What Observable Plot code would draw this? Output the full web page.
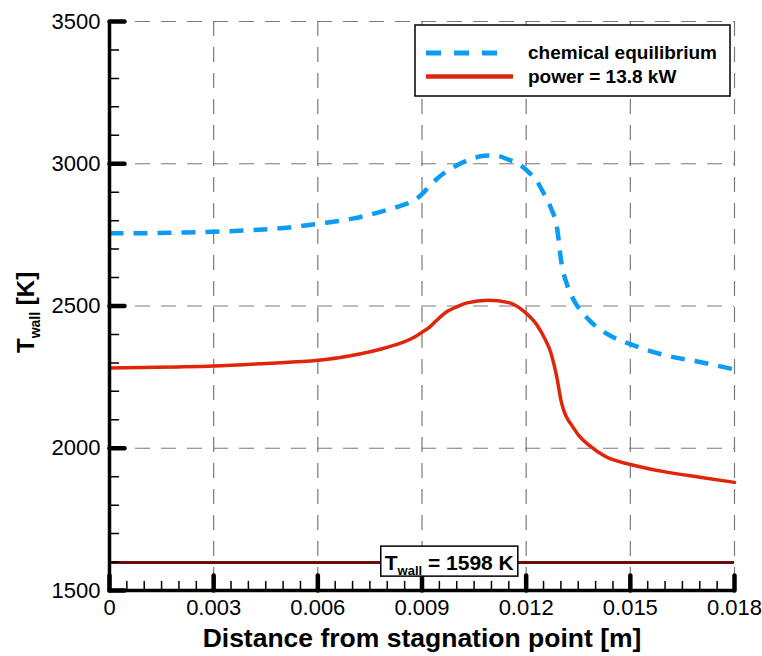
<!DOCTYPE html>
<html><head><meta charset="utf-8">
<script src="https://cdn.jsdelivr.net/npm/d3@7"></script>
<script src="https://cdn.jsdelivr.net/npm/@observablehq/plot@0.6"></script>
<style>
html,body{margin:0;padding:0;background:#fff;}
#chart{width:762px;height:656px;}
</style></head><body><div id="chart"></div>
<script>
// ---- data ----
const chemX = [0, 0.001, 0.002, 0.003, 0.004, 0.005, 0.006, 0.007, 0.008, 0.0084, 0.0088, 0.0090, 0.0092, 0.0096, 0.0100, 0.0104, 0.0108, 0.0111, 0.0115, 0.0118, 0.0121, 0.0123, 0.0125, 0.0127, 0.0129, 0.0130, 0.0132, 0.0134, 0.0138, 0.0144, 0.0150, 0.0160, 0.0170, 0.0180];
const chemT = [2756, 2756, 2758, 2761, 2766, 2774, 2789, 2807, 2838, 2853, 2873, 2893, 2920, 2964, 2994, 3016, 3028, 3029, 3014, 2998, 2967, 2941, 2897, 2848, 2766, 2665, 2567, 2515, 2452, 2397, 2366, 2327, 2303, 2277];
const powerX = [0, 0.001, 0.002, 0.003, 0.0045, 0.006, 0.0066, 0.0072, 0.0078, 0.0084, 0.0088, 0.0090, 0.0092, 0.0094, 0.0097, 0.0100, 0.0103, 0.0109, 0.0115, 0.0119, 0.0123, 0.01255, 0.0127, 0.0128, 0.0129, 0.01295, 0.0130, 0.01305, 0.0131, 0.0132, 0.0133, 0.0135, 0.0138, 0.0143, 0.0150, 0.0160, 0.0170, 0.0180];
const powerT = [2282, 2284, 2286, 2289, 2298, 2309, 2318, 2331, 2348, 2370, 2392, 2408, 2424, 2447, 2479, 2497, 2511, 2520, 2512, 2485, 2435, 2382, 2340, 2295, 2239, 2203, 2170, 2146, 2127, 2101, 2083, 2047, 2012, 1970, 1943, 1917, 1898, 1880];
const wallT = 1598;
const seriesNames = ["chemical equilibrium", "power = 13.8 kW"];
const seriesColors = ["#0d9cf5", "#e0250a"];
const wallColor = "#6e0c0c";
const xTicks = [0, 0.003, 0.006, 0.009, 0.012, 0.015, 0.018];
const xTickLabels = ["0", "0.003", "0.006", "0.009", "0.012", "0.015", "0.018"];
const xMinor = [0.0005, 0.001, 0.0015, 0.002, 0.0025, 0.0035, 0.004, 0.0045, 0.005, 0.0055, 0.0065, 0.007, 0.0075, 0.008, 0.0085, 0.0095, 0.010, 0.0105, 0.011, 0.0115, 0.0125, 0.013, 0.0135, 0.014, 0.0145, 0.0155, 0.016, 0.0165, 0.017, 0.0175];
const yTicks = [1500, 2000, 2500, 3000, 3500];
const yMinor = [1600, 1700, 1800, 1900, 2100, 2200, 2300, 2400, 2600, 2700, 2800, 2900, 3100, 3200, 3300, 3400];
const xTitle = "Distance from stagnation point [m]";
const yTitleMain = "T", yTitleSub = "wall", yTitleTail = " [K]";

const chem = chemX.map((x, i) => ({x, T: chemT[i]}));
const power = powerX.map((x, i) => ({x, T: powerT[i]}));

const tickShape = {draw(context, l) { context.moveTo(0, 0); context.lineTo(0, -l); }};
const FONT = "'Liberation Sans', Arial, Helvetica, sans-serif";

const plot = Plot.plot({
  width: 762, height: 656,
  marginLeft: 109, marginRight: 28, marginTop: 21, marginBottom: 66,
  x: {domain: [0, 0.018]},
  y: {domain: [1500, 3500]},
  style: {fontFamily: FONT, fontSize: "22px", color: "black", background: "white"},
  marks: [
    Plot.gridX(xTicks.slice(1), {stroke: "#7a7a7a", strokeOpacity: 1, strokeWidth: 1.2, strokeDasharray: "15,11"}),
    Plot.gridY(yTicks.slice(1), {stroke: "#7a7a7a", strokeOpacity: 1, strokeWidth: 1.2, strokeDasharray: "15,11"}),
    Plot.line(chem, {x: "x", y: "T", stroke: seriesColors[0], strokeWidth: 4.5, strokeDasharray: "14,10", strokeLinecap: "butt", curve: "monotone-x"}),
    Plot.line(power, {x: "x", y: "T", stroke: seriesColors[1], strokeWidth: 3.5, curve: "monotone-x"}),
    Plot.ruleY([wallT], {stroke: wallColor, strokeWidth: 3}),
    Plot.ruleX([0], {stroke: "black", strokeWidth: 3.5}),
    Plot.ruleY([1500], {stroke: "black", strokeWidth: 3.5}),
    Plot.vector(xMinor, {x: d => d, frameAnchor: "bottom", length: 9, rotate: 0, anchor: "start", shape: tickShape, stroke: "black", strokeWidth: 1.5}),
    Plot.vector(xTicks, {x: d => d, frameAnchor: "bottom", length: 15, rotate: 0, anchor: "start", shape: tickShape, stroke: "black", strokeWidth: 4.5}),
    Plot.vector(yMinor, {y: d => d, frameAnchor: "left", length: 9, rotate: 90, anchor: "start", shape: tickShape, stroke: "black", strokeWidth: 1.5}),
    Plot.vector(yTicks, {y: d => d, frameAnchor: "left", length: 15, rotate: 90, anchor: "start", shape: tickShape, stroke: "black", strokeWidth: 4.5}),
    Plot.axisX({ticks: xTicks, tickSize: 0, tickPadding: 9, fontSize: 22, label: null, tickFormat: d => xTickLabels[xTicks.indexOf(d)]}),
    Plot.axisY({ticks: yTicks, tickSize: 0, tickPadding: 9, fontSize: 22, label: null, tickFormat: d => String(d)}),
    Plot.text([xTitle], {text: d => d, frameAnchor: "bottom", lineAnchor: "middle", dy: 48, fontSize: 26.5, fontWeight: "bold", fill: "black"})
  ]
});
document.getElementById("chart").append(plot);

const svg = d3.select(plot);
const xs = plot.scale("x"), ys = plot.scale("y");

// y-axis title with subscript
const yt = svg.append("text")
  .attr("transform", "translate(34,353) rotate(-90)").attr("text-anchor", "start")
  .attr("font-family", FONT).attr("font-weight", "bold").attr("font-size", 24).attr("fill", "black");
yt.append("tspan").text(yTitleMain);
yt.append("tspan").attr("font-size", 14).attr("dy", 6).text(yTitleSub);
yt.append("tspan").attr("dy", -6).text(yTitleTail);

// legend
const lg = svg.append("g").attr("font-family", FONT).attr("font-weight", "bold").attr("font-size", 19).attr("text-anchor", "start");
lg.append("rect").attr("x", 415).attr("y", 25).attr("width", 315).attr("height", 71)
  .attr("fill", "white").attr("stroke", "black").attr("stroke-width", 1.5);
lg.append("line").attr("x1", 426).attr("x2", 502).attr("y1", 53).attr("y2", 53)
  .attr("stroke", seriesColors[0]).attr("stroke-width", 5).attr("stroke-dasharray", "15,13");
lg.append("line").attr("x1", 426).attr("x2", 513).attr("y1", 76.5).attr("y2", 76.5)
  .attr("stroke", seriesColors[1]).attr("stroke-width", 4.5);
lg.append("text").attr("x", 528).attr("y", 59).attr("text-anchor", "start").text(seriesNames[0]);
lg.append("text").attr("x", 528).attr("y", 83).attr("text-anchor", "start").text(seriesNames[1]);

// wall temperature annotation
const ax = xs.apply(0.0098), ay = ys.apply(wallT);
const ag = svg.append("g");
const at = ag.append("text").attr("x", ax).attr("y", ay + 8).attr("text-anchor", "middle")
  .attr("font-family", FONT).attr("font-weight", "bold").attr("font-size", 21).attr("fill", "black");
at.append("tspan").text("T");
at.append("tspan").attr("font-size", 13).attr("dy", 5).text("wall");
at.append("tspan").attr("dy", -5).text(" = " + wallT + " K");
const bb = at.node().getBBox();
ag.insert("rect", "text").attr("x", bb.x - 4).attr("y", ay - 16).attr("width", bb.width + 8).attr("height", 30)
  .attr("fill", "white").attr("stroke", "black").attr("stroke-width", 1.5);
</script></body></html>
